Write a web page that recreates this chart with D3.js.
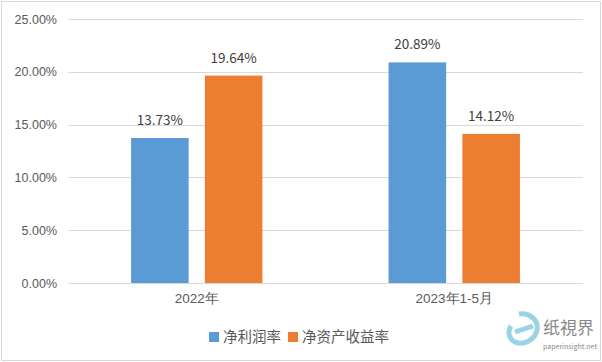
<!DOCTYPE html>
<html>
<head>
<meta charset="utf-8">
<script src="https://cdn.jsdelivr.net/npm/d3@7"></script>
<style>
  body { margin: 0; background: #fff; }
  svg { display: block; font-family: "Noto Sans CJK SC", "Noto Sans", sans-serif; }
</style>
</head>
<body>
<svg id="chart" width="602" height="362"></svg>
<script>
const categories = ['2022年', '2023年1-5月'];
const seriesNames = ['净利润率', '净资产收益率'];
const netMargin = [13.73, 20.89];
const roe = [19.64, 14.12];
const yTicks = [0, 5, 10, 15, 20, 25];

const colors = ['#5B9BD5', '#ED7D31'];
const textColor = '#595959';

const svg = d3.select('#chart');
const width = 602, height = 362;
const margin = { top: 19, right: 19, bottom: 79, left: 68 };

// outer frame
svg.append('rect')
  .attr('x', 1.5).attr('y', 1.5)
  .attr('width', width - 3).attr('height', height - 3)
  .attr('fill', '#fff').attr('stroke', '#D9D9D9');

const x0 = d3.scaleBand()
  .domain(categories)
  .range([margin.left, width - margin.right])
  .paddingInner(0.49)
  .paddingOuter(0.245);

const x1 = d3.scaleBand()
  .domain(seriesNames)
  .range([0, x0.bandwidth()])
  .paddingInner(0.22);

const y = d3.scaleLinear()
  .domain([0, 25])
  .range([height - margin.bottom, margin.top]);

// gridlines
svg.append('g')
  .selectAll('line')
  .data(yTicks)
  .join('line')
  .attr('x1', margin.left).attr('x2', width - margin.right)
  .attr('y1', d => Math.round(y(d)) + 0.5).attr('y2', d => Math.round(y(d)) + 0.5)
  .attr('stroke', '#D9D9D9');

// y axis labels
const yAxis = svg.append('g')
  .attr('transform', `translate(${margin.left},0)`)
  .call(d3.axisLeft(y).tickValues(yTicks).tickSize(0).tickPadding(11)
    .tickFormat(d => d.toFixed(2) + '%'));
yAxis.select('.domain').remove();
yAxis.selectAll('text').attr('fill', textColor).style('font-size', '12.5px');

// x axis labels
const xAxis = svg.append('g')
  .attr('transform', `translate(0,${height - margin.bottom})`)
  .call(d3.axisBottom(x0).tickSize(0).tickPadding(10));
xAxis.select('.domain').remove();
xAxis.selectAll('text').attr('fill', textColor).style('font-size', '13.5px');

const rows = categories.map((c, i) => ({ cat: c, values: [netMargin[i], roe[i]] }));

const groups = svg.append('g')
  .selectAll('g')
  .data(rows)
  .join('g')
  .attr('transform', d => `translate(${x0(d.cat)},0)`);

groups.selectAll('rect')
  .data(d => d.values.map((v, j) => ({ name: seriesNames[j], v, j })))
  .join('rect')
  .attr('x', d => x1(d.name))
  .attr('width', x1.bandwidth())
  .attr('y', d => y(d.v))
  .attr('height', d => y(0) - y(d.v))
  .attr('fill', d => colors[d.j]);

groups.selectAll('text.lbl')
  .data(d => d.values.map((v, j) => ({ name: seriesNames[j], v, j })))
  .join('text')
  .attr('class', 'lbl')
  .attr('x', d => x1(d.name) + x1.bandwidth() / 2)
  .attr('y', d => y(d.v) - 13)
  .attr('text-anchor', 'middle')
  .attr('fill', '#404040')
  .style('font-size', '13.5px')
  .text(d => d.v.toFixed(2) + '%');

// legend
const legend = svg.append('g').attr('transform', 'translate(209,337)');
let lx = 0;
seriesNames.forEach((name, i) => {
  legend.append('rect')
    .attr('x', lx).attr('y', -5)
    .attr('width', 10).attr('height', 10)
    .attr('fill', colors[i]);
  const t = legend.append('text')
    .attr('x', lx + 14).attr('y', 0)
    .attr('dy', '0.35em')
    .attr('fill', textColor)
    .style('font-size', '14.5px')
    .text(name);
  lx += 14 + t.node().getComputedTextLength() + 7;
});

// watermark
const wm = svg.append('g').attr('transform', 'translate(505,312)');
wm.append('path')
  .attr('d', 'M14,2 C24,0 34,8 32,18 C30,28 18,34 10,30 C4,27 2,20 6,14 M10,20 L28,14')
  .attr('fill', 'none').attr('stroke', '#6EC1D8').attr('stroke-width', 5).attr('opacity', 0.7);
wm.append('text')
  .attr('x', 38).attr('y', 22)
  .attr('fill', '#888').style('font-size', '17px')
  .text('纸視界');
wm.append('text')
  .attr('x', 38).attr('y', 37)
  .attr('fill', '#888').style('font-size', '7px')
  .text('paperinsight.net');
</script>
</body>
</html>
